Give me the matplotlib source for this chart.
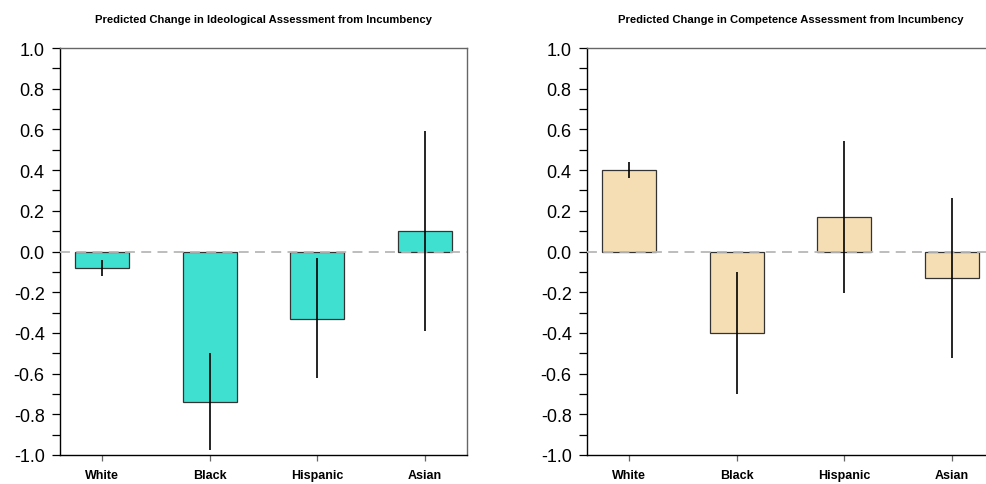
import matplotlib.pyplot as plt
import numpy as np

plt.rcParams['font.family'] = ['Liberation Sans', 'DejaVu Sans']

# --- DATA ---
groups = ['White', 'Black', 'Hispanic', 'Asian']

ideo_est = [-0.08, -0.74, -0.33, 0.10]
ideo_lo = [-0.12, -0.975, -0.62, -0.39]
ideo_hi = [-0.04, -0.50, -0.034, 0.59]

comp_est = [0.40, -0.40, 0.17, -0.13]
comp_lo = [0.36, -0.70, -0.205, -0.525]
comp_hi = [0.44, -0.10, 0.545, 0.265]

titles = ['Predicted Change in Ideological Assessment from Incumbency',
          'Predicted Change in Competence Assessment from Incumbency']
colors = ['#40E0D0', '#F5DEB3']

# --- FIGURE ---
W, H = 987, 485
fig = plt.figure(figsize=(W / 100, H / 100), dpi=100)

panels = [
    (60, ideo_est, ideo_lo, ideo_hi),
    (587, comp_est, comp_lo, comp_hi),
]

major = np.round(np.arange(-1.0, 1.01, 0.2), 1) + 0.0
minor = np.round(np.arange(-0.9, 1.0, 0.2), 1)

for i, (left_px, est, lo, hi) in enumerate(panels):
    ax = fig.add_axes([left_px / W, 29 / H, 407 / W, 407 / H])
    x = np.arange(len(groups))
    ax.bar(x, est, width=0.5, color=colors[i], edgecolor='#333333',
           linewidth=0.9, zorder=2)
    # dashed zero reference line sits over the bar edges
    ax.axhline(0, color='#B8B8B8', linestyle=(0, (5.5, 3.5)), linewidth=1.3, zorder=3)
    ax.vlines(x, lo, hi, color='black', linewidth=1.2, zorder=4)

    ax.set_xlim(-0.39, 3.39)
    ax.set_ylim(-1.0, 1.0)
    ax.set_yticks(major)
    ax.set_yticks(minor, minor=True)
    ax.set_yticklabels(['%.1f' % v for v in major], fontsize=13)
    ax.set_xticks(x)
    ax.set_xticklabels(groups, fontsize=9, fontweight='bold')

    ax.tick_params(axis='y', which='both', direction='out', length=5.5, width=0.9,
                   color='black', pad=5.5)
    ax.tick_params(axis='x', direction='out', length=4.3, width=0.9,
                   color='#666666', pad=6)

    for side in ['top', 'right']:
        ax.spines[side].set_color('#666666')
        ax.spines[side].set_linewidth(1)
    for side in ['left', 'bottom']:
        ax.spines[side].set_color('black')
        ax.spines[side].set_linewidth(1)

    ax.set_title(titles[i], fontsize=8.1, fontweight='bold', pad=18.5)

fig.savefig('out.png', dpi=100)
